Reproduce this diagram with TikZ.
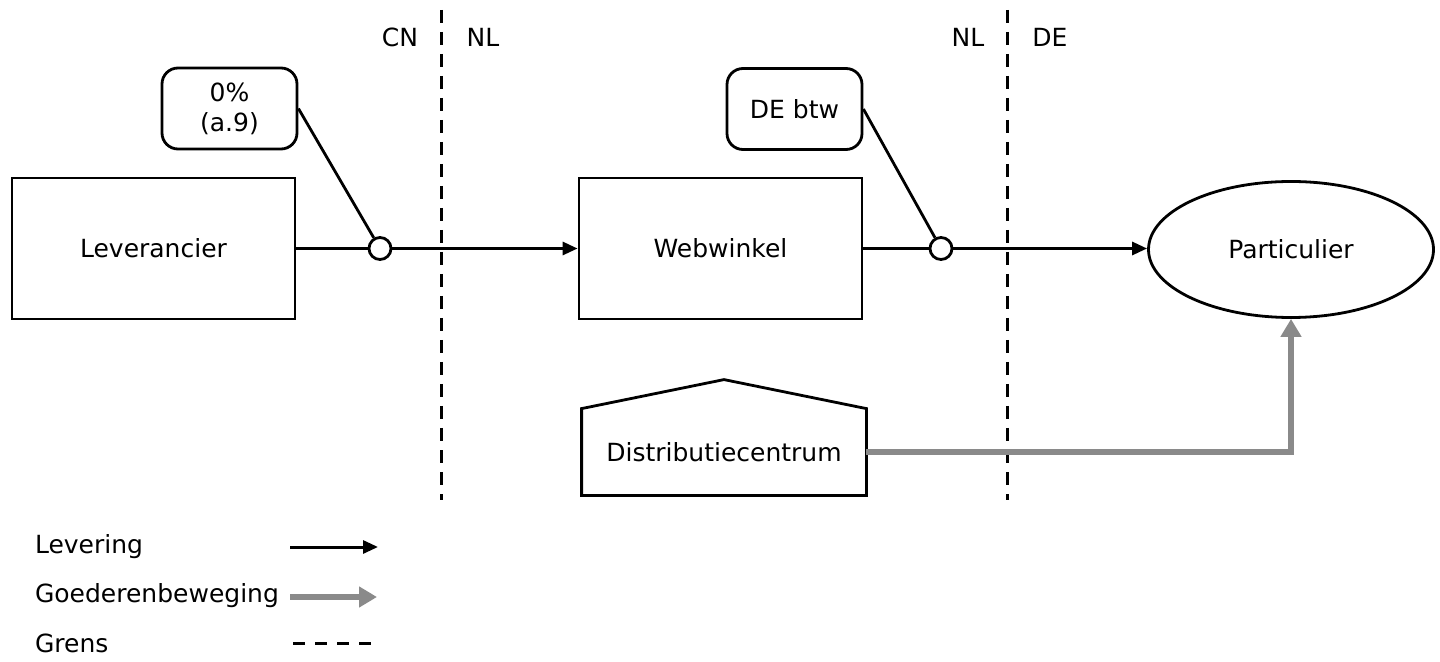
\documentclass[tikz,border=0pt]{standalone}
\usepackage{fontspec}
\setmainfont{DejaVu Sans}
\usetikzlibrary{arrows.meta,shapes.geometric,calc}
\definecolor{goedgray}{RGB}{138,138,138}
\begin{document}
\begin{tikzpicture}[x=0.5pt,y=-0.5pt,
  every node/.style={font=\fontsize{12.5}{15}\selectfont},
  boxnode/.style={draw,line width=1.4pt,minimum width=141.5pt,minimum height=70.5pt,inner sep=0pt},
  bubble/.style={draw,line width=1.4pt,rounded corners=8pt,minimum width=67.5pt,minimum height=40.5pt,inner sep=0pt,align=center},
  knot/.style={circle,draw,line width=1.4pt,fill=white,minimum size=11pt,inner sep=0pt},
  lev/.style={line width=1.5pt,-{Triangle[length=7.5pt,width=6.5pt]}},
  goed/.style={line width=2.8pt,draw=goedgray,color=goedgray,-{Triangle[length=9pt,width=10pt]}},
  grens/.style={line width=1.5pt,dash pattern=on 6.5pt off 4.5pt},
  plain/.style={line width=1.4pt}]
\useasboundingbox (0,0) rectangle (1440,662);
% nodes
\node[boxnode] (lev) at (153.5,248.5) {Leverancier};
\node[boxnode] (web) at (720.5,248.5) {Webwinkel};
\node[ellipse,draw,line width=1.4pt,minimum width=142.5pt,minimum height=68pt,inner sep=0pt] (par) at (1291,249.5) {Particulier};
\node[bubble] (b1) at (229.5,108.5) {0\%\\(a.9)};
\node[bubble] (b2) at (794.5,109) {DE btw};
\node[minimum width=142pt,minimum height=43pt,inner sep=0pt] (dc) at (724,452) {Distributiecentrum};
\draw[plain] (dc.north west) -- ($(dc.north)+(0,-29)$) coordinate (roof) -- (dc.north east) -- (dc.south east) -- (dc.south west) -- cycle;
% borders
\coordinate (g1t) at (441,10); \coordinate (g1b) at (441,500);
\coordinate (g2t) at (1007,10); \coordinate (g2b) at (1007,500);
\draw[grens] (g1t) -- (g1b);
\draw[grens] (g2t) -- (g2b);
\node (cn) at (400,37) {CN};
\node (nl1) at (483,37) {NL};
\node (nl2) at (968,37) {NL};
\node (de) at (1050,37) {DE};
% flows
\draw[lev] (lev.east) -- (web.west);
\draw[lev] (web.east) -- (web.east -| par.west);
\node[knot] (k1) at (380,248.5) {};
\node[knot] (k2) at (941,248.5) {};
\draw[plain] (b1.east) -- (k1);
\draw[plain] (b2.east) -- (k2);
\draw[goed] (dc.east) -- (dc.east -| par.south) -- (par.south);
% legend
\node[anchor=west] (l1) at (28,547) {Levering};
\node[anchor=west] (l2) at (28,596) {Goederenbeweging};
\node[anchor=west] (l3) at (28,643) {Grens};
\coordinate (a1s) at (290,547); \coordinate (a1e) at (378,547);
\coordinate (a2s) at (290,597); \coordinate (a2e) at (377,597);
\coordinate (a3s) at (293,643); \coordinate (a3e) at (378,643);
\draw[lev] (a1s) -- (a1e);
\draw[goed] (a2s) -- (a2e);
\draw[line width=1.5pt,dash pattern=on 6pt off 5pt] (a3s) -- (a3e);
\end{tikzpicture}
\end{document}
